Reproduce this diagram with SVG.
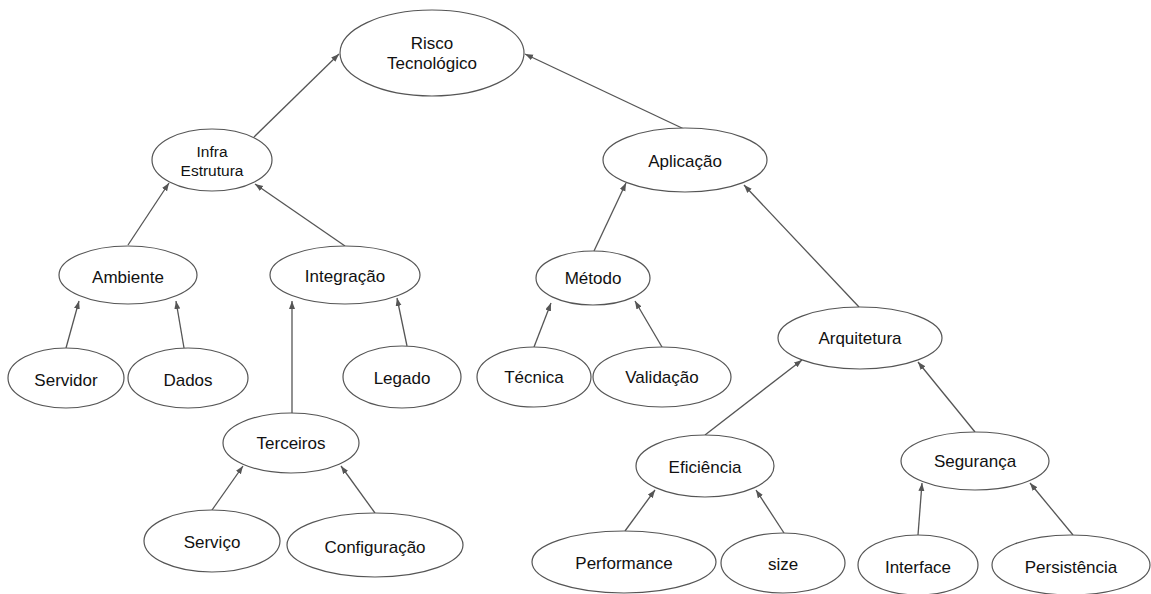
<svg xmlns="http://www.w3.org/2000/svg" width="1151" height="594" viewBox="0 0 1151 594">
  <style>
    .node ellipse { fill: #ffffff; stroke: #555555; stroke-width: 1.2; }
    .node text { font-family: "Liberation Sans", Arial, sans-serif; font-size: 17px; fill: #111111; text-anchor: middle; }
    .node text.small { font-size: 15.5px; }
    #connectors line { stroke: #555555; stroke-width: 1.3; marker-end: url(#arrow); }
  </style>
  <defs>
    <marker id="arrow" markerUnits="userSpaceOnUse" markerWidth="9" markerHeight="7" refX="8" refY="3" orient="auto">
      <path d="M0,0 L8,3 L0,6 z" fill="#555555"/>
    </marker>
  </defs>
  <rect width="1151" height="594" fill="#ffffff"/>

  <!-- edges: child to parent, arrowhead at the parent -->
  <g id="connectors">
    <line x1="254" y1="137" x2="339" y2="54"/>
    <line x1="684" y1="129" x2="525" y2="54"/>
    <line x1="128" y1="245" x2="169" y2="183"/>
    <line x1="345" y1="246" x2="255" y2="184"/>
    <line x1="66" y1="348" x2="79" y2="301"/>
    <line x1="184" y1="348" x2="176" y2="301"/>
    <line x1="292" y1="413" x2="292" y2="301"/>
    <line x1="407" y1="346" x2="397" y2="298"/>
    <line x1="212" y1="510" x2="243" y2="466"/>
    <line x1="375" y1="513" x2="341" y2="466"/>
    <line x1="594" y1="251" x2="626" y2="183"/>
    <line x1="859" y1="307" x2="744" y2="185"/>
    <line x1="534" y1="347" x2="551" y2="303"/>
    <line x1="662" y1="347" x2="635" y2="301"/>
    <line x1="705" y1="435" x2="802" y2="360"/>
    <line x1="975" y1="432" x2="918" y2="362"/>
    <line x1="625" y1="531" x2="655" y2="490"/>
    <line x1="784" y1="533" x2="756" y2="490"/>
    <line x1="918" y1="535" x2="922" y2="483"/>
    <line x1="1073" y1="535" x2="1030" y2="483"/>
  </g>

  <g id="risco" class="node">
    <ellipse cx="432" cy="53" rx="92" ry="43"/>
    <text x="432" y="49">Risco</text>
    <text x="432" y="69">Tecnológico</text>
  </g>
  <g id="infra" class="node">
    <ellipse cx="212" cy="160" rx="60" ry="31"/>
    <text class="small" x="212" y="157">Infra</text>
    <text class="small" x="212" y="176">Estrutura</text>
  </g>
  <g id="ambiente" class="node">
    <ellipse cx="128" cy="275" rx="69" ry="29"/>
    <text x="128" y="283">Ambiente</text>
  </g>
  <g id="integracao" class="node">
    <ellipse cx="345" cy="275" rx="75" ry="29"/>
    <text x="345" y="282">Integração</text>
  </g>
  <g id="servidor" class="node">
    <ellipse cx="66" cy="378" rx="58" ry="30"/>
    <text x="66" y="386">Servidor</text>
  </g>
  <g id="dados" class="node">
    <ellipse cx="188" cy="378" rx="60" ry="30"/>
    <text x="188" y="386">Dados</text>
  </g>
  <g id="legado" class="node">
    <ellipse cx="402" cy="377" rx="59" ry="31"/>
    <text x="402" y="384">Legado</text>
  </g>
  <g id="terceiros" class="node">
    <ellipse cx="291" cy="443" rx="68" ry="30"/>
    <text x="291" y="449">Terceiros</text>
  </g>
  <g id="servico" class="node">
    <ellipse cx="212" cy="541" rx="68" ry="31"/>
    <text x="212" y="548">Serviço</text>
  </g>
  <g id="configuracao" class="node">
    <ellipse cx="375" cy="545" rx="88" ry="32"/>
    <text x="375" y="553">Configuração</text>
  </g>
  <g id="aplicacao" class="node">
    <ellipse cx="685" cy="160" rx="82" ry="32"/>
    <text x="685" y="167">Aplicação</text>
  </g>
  <g id="metodo" class="node">
    <ellipse cx="593" cy="278" rx="57" ry="27"/>
    <text x="593" y="284">Método</text>
  </g>
  <g id="tecnica" class="node">
    <ellipse cx="534" cy="377" rx="57" ry="30"/>
    <text x="534" y="383">Técnica</text>
  </g>
  <g id="validacao" class="node">
    <ellipse cx="662" cy="377" rx="69" ry="30"/>
    <text x="662" y="383">Validação</text>
  </g>
  <g id="arquitetura" class="node">
    <ellipse cx="860" cy="338" rx="82" ry="31"/>
    <text x="860" y="344">Arquitetura</text>
  </g>
  <g id="eficiencia" class="node">
    <ellipse cx="705" cy="466" rx="69" ry="31"/>
    <text x="705" y="473">Eficiência</text>
  </g>
  <g id="seguranca" class="node">
    <ellipse cx="975" cy="461" rx="74" ry="29"/>
    <text x="975" y="467">Segurança</text>
  </g>
  <g id="performance" class="node">
    <ellipse cx="624" cy="562" rx="92" ry="31"/>
    <text x="624" y="569">Performance</text>
  </g>
  <g id="size" class="node">
    <ellipse cx="783" cy="563" rx="62" ry="30"/>
    <text x="783" y="570">size</text>
  </g>
  <g id="interface" class="node">
    <ellipse cx="918" cy="565" rx="60" ry="30"/>
    <text x="918" y="573">Interface</text>
  </g>
  <g id="persistencia" class="node">
    <ellipse cx="1071" cy="565" rx="79" ry="30"/>
    <text x="1071" y="573">Persistência</text>
  </g>
</svg>
